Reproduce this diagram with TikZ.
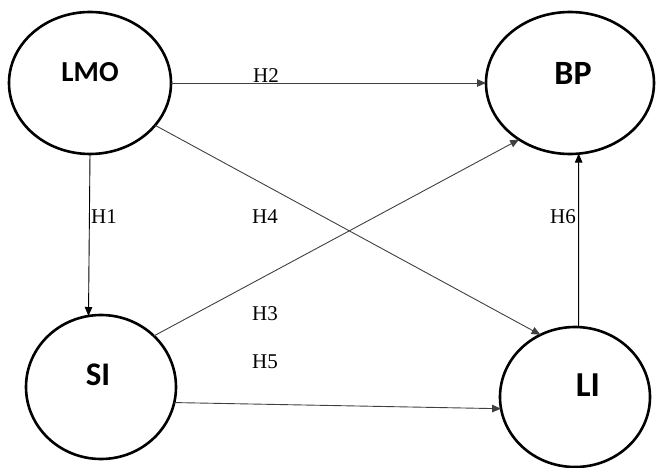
\documentclass[tikz,border=0pt]{standalone}
\usepackage{fontspec}
\setmainfont{Liberation Serif}
\newfontfamily\calibri{Carlito}
\usetikzlibrary{shapes.geometric,arrows.meta}
\begin{document}
\begin{tikzpicture}[x=1pt,y=-1pt,
    construct/.style={ellipse, draw, line width=2.6pt, inner sep=0pt, outer sep=0pt},
    hyp/.style={font=\fontsize{21}{23}\selectfont},
    link/.style={draw=black!75, line width=0.9pt, -{Triangle[length=9pt,width=7.5pt]}}]
    \useasboundingbox (0,0) rectangle (657,468);
    \node[construct, minimum width=162pt, minimum height=142pt,
        label={[font=\fontsize{29}{31}\calibri\bfseries, yshift=11pt]center:LMO}] (lmo) at (90,83) {};
    \node[construct, minimum width=168pt, minimum height=142pt,
        label={[font=\fontsize{34}{36}\calibri\bfseries, xshift=3pt, yshift=10pt]center:BP}] (bp) at (570,83) {};
    \node[construct, minimum width=150pt, minimum height=144pt,
        label={[font=\fontsize{33}{35}\calibri\bfseries, xshift=-3pt, yshift=12pt]center:SI}] (si) at (101,387) {};
    \node[construct, minimum width=150pt, minimum height=140pt,
        label={[font=\fontsize{35}{37}\calibri\bfseries, xshift=13pt, yshift=12pt]center:LI}] (li) at (575,397) {};
    % links
    \draw[link] (lmo.east) -- (bp.west);
    \draw[link, draw=black] (lmo.south) -- (si.100);
    \draw[link] (lmo.-33) -- (li.119);
    \draw[link] (si.44) -- (bp.228);
    \draw[link] (si.-12) -- (li.189);
    \draw[link, draw=black] (li.87) -- (bp.-83);
    % hypotheses
    \node[hyp] (h1) at (104,217) {H1};
    \node[hyp] (h2) at (266,76) {H2};
    \node[hyp] (h3) at (265,314) {H3};
    \node[hyp] (h4) at (265,217) {H4};
    \node[hyp] (h5) at (265,362) {H5};
    \node[hyp] (h6) at (563,217) {H6};
\end{tikzpicture}
\end{document}
